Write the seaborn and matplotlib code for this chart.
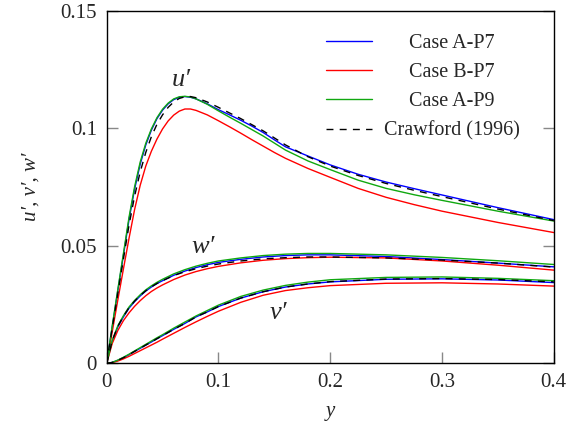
import numpy as np
import pandas as pd
import seaborn as sns
import matplotlib.pyplot as plt

# wall distance for the u' profiles (finer near the peak)
y_u = [0, 0.005, 0.01, 0.015, 0.02, 0.025, 0.03, 0.035, 0.04, 0.045, 0.05, 0.055,
       0.06, 0.065, 0.07, 0.075, 0.08, 0.09, 0.1, 0.11, 0.12, 0.13, 0.14, 0.15,
       0.16, 0.18, 0.2, 0.225, 0.25, 0.275, 0.3, 0.35, 0.4]
# wall distance for the v' and w' profiles
y_vw = [0, 0.005, 0.01, 0.015, 0.02, 0.025, 0.03, 0.035, 0.04, 0.045, 0.05,
        0.06, 0.07, 0.08, 0.09, 0.1, 0.12, 0.14, 0.16, 0.18, 0.2, 0.25, 0.3, 0.35, 0.4]

# u' profiles
u_a7 = [0, 0.0155, 0.031, 0.046, 0.0612, 0.0742, 0.0848, 0.093, 0.0993, 0.1042, 0.1078,
        0.1105, 0.1123, 0.1133, 0.1136, 0.1133, 0.1126, 0.1105, 0.108, 0.1058, 0.1035,
        0.101, 0.0983, 0.0952, 0.0922, 0.0883, 0.0845, 0.0805, 0.0772, 0.0744, 0.0717,
        0.0663, 0.0612]
u_b7 = [0, 0.0135, 0.027, 0.0402, 0.0532, 0.0655, 0.0758, 0.084, 0.0903, 0.0955, 0.0998,
        0.1032, 0.1057, 0.1074, 0.1083, 0.1083, 0.1077, 0.1058, 0.1033, 0.1007, 0.098,
        0.0952, 0.0925, 0.0898, 0.0873, 0.083, 0.0792, 0.0745, 0.0707, 0.0676, 0.0648,
        0.06, 0.0557]
u_a9 = [0, 0.016, 0.0315, 0.0468, 0.0622, 0.0752, 0.0857, 0.0937, 0.0998, 0.1046, 0.1082,
        0.1108, 0.1126, 0.1135, 0.1137, 0.1134, 0.1126, 0.1103, 0.1075, 0.1048, 0.1022,
        0.0995, 0.0968, 0.0938, 0.0908, 0.0862, 0.0825, 0.078, 0.0745, 0.0718, 0.0694,
        0.0648, 0.0606]
u_cr = [0, 0.015, 0.0298, 0.0444, 0.0588, 0.0712, 0.0815, 0.0898, 0.0965, 0.1018, 0.1058,
        0.109, 0.1113, 0.1128, 0.1135, 0.1136, 0.1131, 0.1113, 0.109, 0.1066, 0.1042,
        0.1016, 0.099, 0.096, 0.093, 0.088, 0.084, 0.08, 0.0766, 0.0737, 0.071,
        0.0657, 0.0608]

# w' profiles
w_a7 = [0, 0.0095, 0.0155, 0.0198, 0.0235, 0.0263, 0.0287, 0.0308, 0.0325, 0.034, 0.0352,
        0.0375, 0.0393, 0.0408, 0.042, 0.043, 0.0443, 0.0453, 0.0459, 0.0462, 0.0462,
        0.0455, 0.0442, 0.0427, 0.0411]
w_b7 = [0, 0.0085, 0.014, 0.0182, 0.0215, 0.0243, 0.0267, 0.0288, 0.0306, 0.0321, 0.0334,
        0.0357, 0.0376, 0.0391, 0.0403, 0.0413, 0.0428, 0.0439, 0.0446, 0.045, 0.0452,
        0.0449, 0.0436, 0.0418, 0.0397]
w_a9 = [0, 0.0098, 0.016, 0.0203, 0.024, 0.0268, 0.0292, 0.0313, 0.033, 0.0345, 0.0358,
        0.0381, 0.0399, 0.0414, 0.0426, 0.0436, 0.0449, 0.0459, 0.0465, 0.0468, 0.0468,
        0.0462, 0.0451, 0.0437, 0.0421]
w_cr = [0, 0.0097, 0.0158, 0.02, 0.0237, 0.0265, 0.0289, 0.0309, 0.0326, 0.034, 0.0352,
        0.0374, 0.039, 0.0403, 0.0414, 0.0423, 0.0436, 0.0445, 0.045, 0.0453, 0.0453,
        0.0449, 0.044, 0.0427, 0.041]

# v' profiles
v_a7 = [0, 0.0004, 0.0013, 0.0024, 0.0037, 0.0051, 0.0064, 0.0078, 0.0091, 0.0105, 0.0118,
        0.0145, 0.017, 0.0198, 0.0219, 0.0242, 0.0278, 0.0305, 0.0325, 0.0338, 0.0347,
        0.0358, 0.036, 0.0355, 0.0344]
v_b7 = [0, 0.0003, 0.001, 0.0019, 0.003, 0.0042, 0.0054, 0.0066, 0.0078, 0.009, 0.0103,
        0.0128, 0.0153, 0.0177, 0.02, 0.0222, 0.026, 0.029, 0.031, 0.0322, 0.0331,
        0.0341, 0.0343, 0.0338, 0.0329]
v_a9 = [0, 0.0004, 0.0014, 0.0026, 0.0039, 0.0053, 0.0067, 0.0081, 0.0095, 0.0109, 0.0122,
        0.015, 0.0176, 0.0202, 0.0225, 0.0248, 0.0285, 0.0312, 0.0332, 0.0346, 0.0356,
        0.0366, 0.0368, 0.0362, 0.0352]
v_cr = [0, 0.0004, 0.0013, 0.0024, 0.0037, 0.0051, 0.0064, 0.0078, 0.0091, 0.0105, 0.0118,
        0.0145, 0.017, 0.0198, 0.0219, 0.0242, 0.0278, 0.0305, 0.0325, 0.0338, 0.0348,
        0.0359, 0.0361, 0.0357, 0.0347]

cases = ["Case A-P7", "Case B-P7", "Case A-P9", "Crawford (1996)"]
colors = ["#0000ff", "#ff0000", "#10a810", "black"]
profiles = {"u": (y_u, [u_a7, u_b7, u_a9, u_cr]),
            "w": (y_vw, [w_a7, w_b7, w_a9, w_cr]),
            "v": (y_vw, [v_a7, v_b7, v_a9, v_cr])}

sns.set_style("ticks")
plt.rcParams["font.family"] = ["Liberation Serif", "DejaVu Serif"]

fig = plt.figure(figsize=(5.86, 4.25), dpi=100)
ax = fig.add_axes([0.182, 0.145, 0.763, 0.829])

for comp, (yy, series) in profiles.items():
    for i, (case, vals) in enumerate(zip(cases, series)):
        df = pd.DataFrame({"y": yy, "val": vals})
        sns.lineplot(data=df, x="y", y="val", ax=ax, sort=False, estimator=None,
                     color=colors[i], lw=1.0,
                     label=case if comp == "u" else None)
        if i == 3:
            ax.lines[-1].set_dashes((5, 4.5))

ax.set_xlim(0, 0.4)
ax.set_ylim(0, 0.15)
ax.set_xticks([0, 0.1, 0.2, 0.3, 0.4])
ax.set_xticklabels(["0", "0.1", "0.2", "0.3", "0.4"])
ax.set_yticks([0, 0.05, 0.1, 0.15])
ax.set_yticklabels(["0", "0.05", "0.1", "0.15"])
ax.tick_params(direction="in", length=8, width=1, color="#888888",
               labelsize=15, right=True, top=False, pad=7)
for s in ax.spines.values():
    s.set_linewidth(1.0)
    s.set_color("black")

ax.set_xlabel("y", fontsize=15, style="italic", labelpad=7)
ax.set_ylabel("u′, v′, w′", fontsize=15, style="italic", labelpad=14)

ax.text(0.067, 0.1206, "u′", fontsize=19, style="italic", ha="center", va="center")
ax.text(0.0864, 0.0496, "w′", fontsize=19, style="italic", ha="center", va="center")
ax.text(0.1535, 0.0213, "v′", fontsize=19, style="italic", ha="center", va="center")

leg = ax.legend(loc="upper left", bbox_to_anchor=(0.49, 0.935), frameon=False,
                fontsize=14.5, handlelength=2.3, handletextpad=0.6,
                labelspacing=0.5, borderpad=0, borderaxespad=0)

# centre the legend labels in their column
fig.canvas.draw()
texts = leg.get_texts()
widths = [t.get_window_extent().width for t in texts]
wmax = max(widths)
for t, w in zip(texts, widths):
    t.set_position(((wmax - w) / 2, 0))

fig.savefig("out.png", dpi=100)
